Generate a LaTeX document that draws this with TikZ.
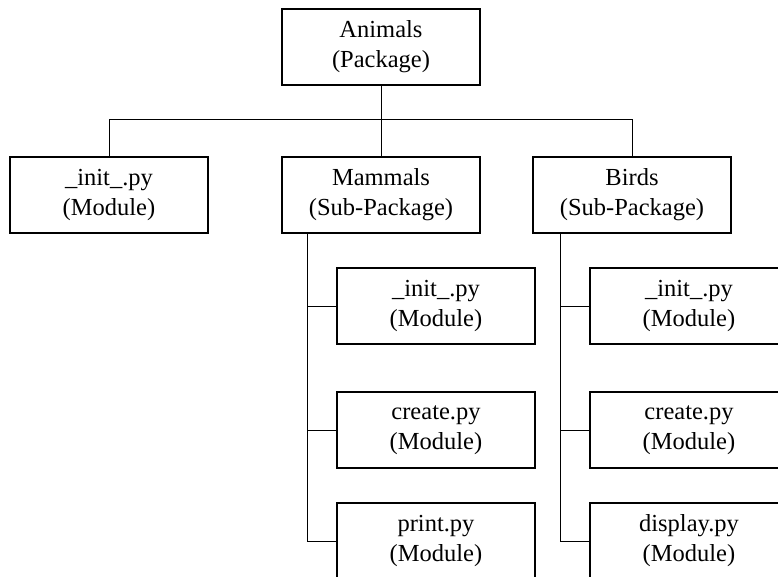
\documentclass[tikz,border=0pt]{standalone}
\usepackage{fontspec}
\setmainfont{Liberation Serif}
\usetikzlibrary{positioning}

\begin{document}
\begin{tikzpicture}[x=1pt,y=-1pt,
  box/.style={draw, line width=1.3pt, minimum width=198pt, minimum height=76pt,
    inner sep=0pt, align=center, font=\fontsize{24.5}{30}\selectfont,
    execute at begin node={\rule{0pt}{25pt}}},
  link/.style={line width=1pt}]
\clip (0,0) rectangle (778,576);

\node[box] (animals) at (381,47) {Animals\\(Package)};

\node[box] (init) at (109,195) {\_init\_.py\\(Module)};
\node[box] (mammals) at (381,195) {Mammals\\(Sub-Package)};
\node[box] (birds) at (632,195) {Birds\\(Sub-Package)};

\draw[link] (animals.south) -- (mammals.north);
\draw[link] (init.north) -- ++(0,-37) -| (birds.north);

% modules of the two sub-packages
\foreach \n/\y/\t in {1/306/\_init\_.py, 2/430/create.py, 3/541/print.py}
    \node[box] (m\n) at (436,\y) {\t\\(Module)};
\foreach \n/\y/\t in {1/306/\_init\_.py, 2/430/create.py, 3/541/display.py}
    \node[box] (b\n) at (689,\y) {\t\\(Module)};

\coordinate (mtrunk) at ([xshift=26pt]mammals.south west);
\coordinate (btrunk) at ([xshift=28pt]birds.south west);

\foreach \n in {1,2,3}{
    \draw[link] (mtrunk) |- (m\n.west);
    \draw[link] (btrunk) |- (b\n.west);
}

\end{tikzpicture}
\end{document}
